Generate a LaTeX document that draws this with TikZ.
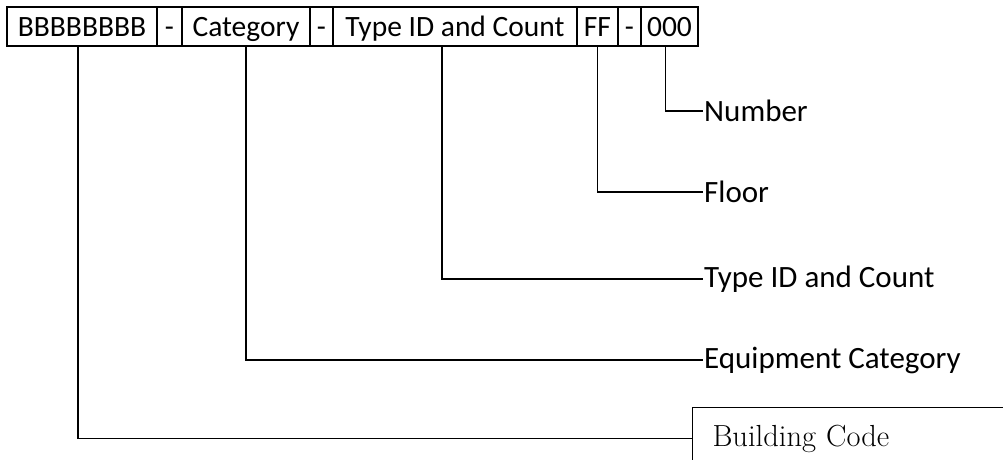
\documentclass[tikz,border=0pt]{standalone}
\usepackage{fontspec}
\newfontfamily\calibri{Carlito}

\begin{document}
\begin{tikzpicture}[x=1pt, y=-1pt,
		cell/.style={draw, line width=1.5pt, minimum height=39pt, inner sep=0pt, text height=22pt, text depth=2pt, font=\calibri\fontsize{29.5}{35}\selectfont},
		label/.style={anchor=west, inner xsep=1pt, font=\calibri\fontsize{31}{37}\selectfont},
		bcbox/.style={draw, line width=1pt, anchor=north west, minimum height=62pt, text width=290pt, inner xsep=20pt, align=left, font=\fontsize{30.5}{36}\selectfont},
		link/.style={line width=1.6pt}]
		\useasboundingbox (0,0) rectangle (1003,459);
		\clip (0,0) rectangle (1003,459);

		% code fields
		\node[cell, minimum width=150pt] at (82,26.5) (bbb) {BBBBBBBB};
		\node[cell, minimum width=25pt] at (169.5,26.5) (dasha) {-};
		\node[cell, minimum width=128pt] at (246,26.5) (cat) {Category};
		\node[cell, minimum width=23pt] at (321.5,26.5) (dashb) {-};
		\node[cell, minimum width=244pt] at (455,26.5) (type) {Type ID and Count};
		\node[cell, minimum width=41pt] at (597.5,26.5) (ff) {FF};
		\node[cell, minimum width=23pt] at (629.5,26.5) (dashc) {-};
		\node[cell, minimum width=57pt] at (669.5,26.5) (num) {000};

		% meanings
		\node[label] at (703,111) (lnum) {Number};
		\node[label] at (703,192) (lfloor) {Floor};
		\node[label] at (703,279) (ltype) {Type ID and Count};
		\node[label] at (703,360) (lequip) {Equipment Category};
		\node[bcbox] at (692,407) (bcode) {Building Code};

		\draw[link] ([xshift=-4pt]num.south) |- (lnum.west);
		\draw[link] (ff.south) |- (lfloor.west);
		\draw[link] ([xshift=-13pt]type.south) |- (ltype.west);
		\draw[link] (cat.south) |- (lequip.west);
		\draw[link] ([xshift=-4pt]bbb.south) |- (bcode.west);
	\end{tikzpicture}
\end{document}
